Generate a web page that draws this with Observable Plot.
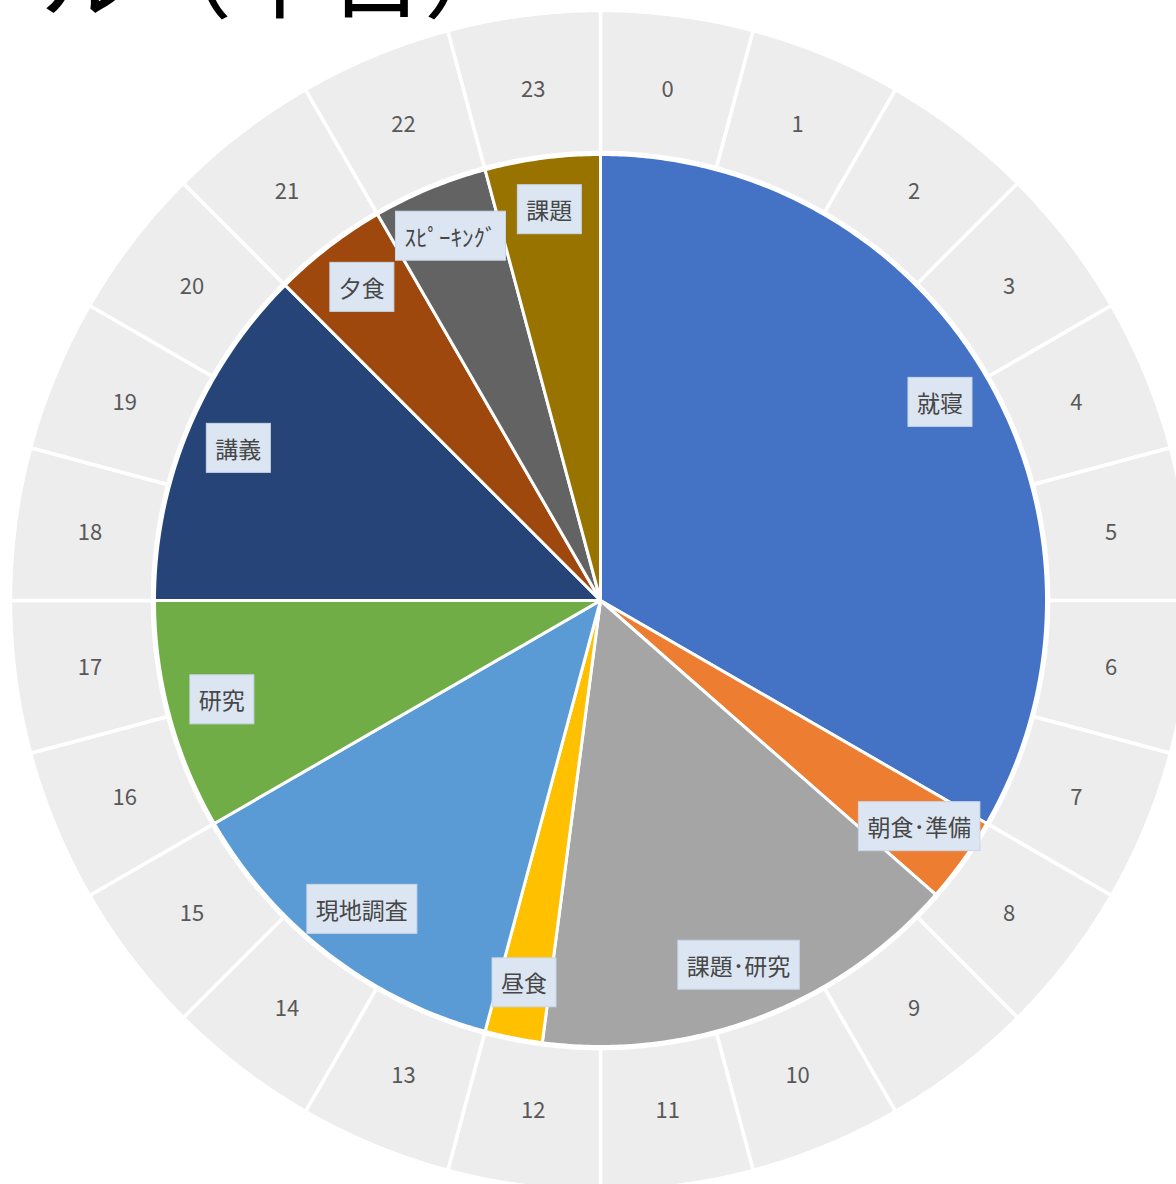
<!DOCTYPE html>
<html><head><meta charset="utf-8">
<script src="https://cdn.jsdelivr.net/npm/d3@7"></script>
<script src="https://cdn.jsdelivr.net/npm/@observablehq/plot@0.6"></script>
<style>
body{margin:0;background:#fff;overflow:hidden;}
#wrap{position:relative;width:1176px;height:1184px;overflow:hidden;background:#fff;}
#title{position:absolute;right:656px;top:-79px;font-family:"Noto Sans CJK JP",sans-serif;font-size:96px;line-height:1;white-space:nowrap;color:#000;z-index:2;}
#wrap svg{position:absolute;left:0;top:0;}
</style></head><body><div id="wrap"><div id="title">スケジュール（平日）</div></div>
<script>
// Data
const hourLabels = ["0","1","2","3","4","5","6","7","8","9","10","11","12","13","14","15","16","17","18","19","20","21","22","23"];
const activities = ["就寝","朝食･準備","課題･研究","昼食","現地調査","研究","講義","夕食","ｽﾋﾟｰｷﾝｸﾞ","課題"];
const durations = [8, 0.75, 3.75, 0.5, 3, 2, 3, 1, 1, 1]; // hours, starting 0:00
const colors = ["#4472C4","#ED7D31","#A5A5A5","#FFC000","#5B9BD5","#70AD47","#264478","#9E480E","#636363","#997300"];

const R_PIE = 446, R_IN = 448, R_OUT = 590, R_HOUR = 515, R_LAB = 392;
const deg = Math.PI / 180;
const pt = (r, a) => ({x: r * Math.sin(a * deg), y: r * Math.cos(a * deg)});
function arc(r, a0, a1) {
  const n = Math.max(2, Math.ceil(Math.abs(a1 - a0) / 0.5));
  return d3.range(n + 1).map(i => pt(r, a0 + (a1 - a0) * i / n));
}

// ring segments
const ringPts = [];
hourLabels.forEach((h, i) => {
  const a0 = i * 15, a1 = (i + 1) * 15;
  const p = [...arc(R_OUT, a0, a1), ...arc(R_IN, a1, a0)];
  p.push(p[0]);
  p.forEach(q => ringPts.push({...q, id: "h" + i}));
});
const ringLab = hourLabels.map((h, i) => ({...pt(R_HOUR, (i + 0.5) * 15), text: h}));

// pie slices
const piePts = [], pieLab = [];
let start = 0;
activities.forEach((a, i) => {
  const end = start + durations[i];
  const p = [{x: 0, y: 0}, ...arc(R_PIE, start * 15, end * 15), {x: 0, y: 0}];
  p.forEach(q => piePts.push({...q, id: a, color: colors[i]}));
  pieLab.push({...pt(R_LAB, (start + end) / 2 * 15), text: a});
  start = end;
});

const chart = Plot.plot({
  width: 1176, height: 1184, margin: 0,
  x: {domain: [-600, 576], axis: null},
  y: {domain: [-584, 600], axis: null},
  color: {type: "identity"},
  style: {fontFamily: "'Noto Sans CJK JP', sans-serif", background: "transparent"},
  marks: [
    Plot.line(ringPts, {x: "x", y: "y", z: "id", fill: "#ededed", stroke: "white", strokeWidth: 3.5, curve: "linear"}),
    Plot.line(piePts, {x: "x", y: "y", z: "id", fill: "color", stroke: "white", strokeWidth: 3, curve: "linear"}),
    Plot.text(ringLab, {x: "x", y: "y", text: "text", fontSize: 22, fill: "#595959"}),
    Plot.text(pieLab, {x: "x", y: "y", text: "text", fontSize: 23, fill: "#474747"})
  ]
});
document.getElementById("wrap").append(chart);

// label boxes behind pie labels
const groups = chart.querySelectorAll('g[aria-label="text"]');
const g = groups[groups.length - 1];
g.querySelectorAll("text").forEach(t => {
  const b = t.getBBox();
  const padX = 9, h = 49;
  const r = document.createElementNS("http://www.w3.org/2000/svg", "rect");
  r.setAttribute("x", b.x - padX);
  r.setAttribute("y", b.y + b.height / 2 - h / 2);
  r.setAttribute("width", b.width + 2 * padX);
  r.setAttribute("height", h);
  r.setAttribute("fill", "#dce6f2");
  r.setAttribute("stroke", "#c8d6e8");
  r.setAttribute("stroke-width", 1);
  if (t.getAttribute("transform")) r.setAttribute("transform", t.getAttribute("transform"));
  t.parentNode.insertBefore(r, t);
});
</script>
</body></html>
